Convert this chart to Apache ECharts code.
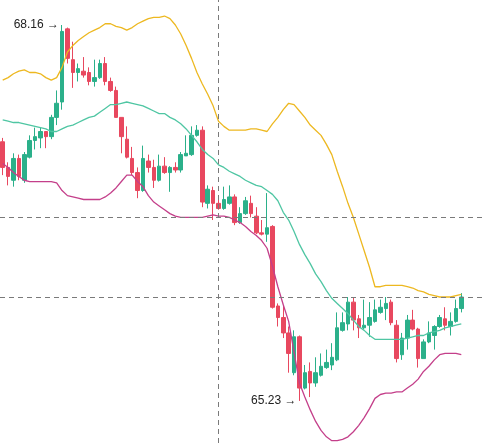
<!DOCTYPE html>
<html>
<head>
<meta charset="utf-8">
<script src="https://cdn.jsdelivr.net/npm/echarts@6/dist/echarts.min.js"></script>
<style>
html,body{margin:0;padding:0;background:#fff;}
#c{width:484px;height:443px;}
</style>
</head>
<body>
<div id="c"></div>
<script>
// candles: [open, close, low, high]
const candles = [
[67.25,67.05,66.99,67.28],[67.05,66.98,66.91,67.09],[66.95,67.12,66.90,67.16],[67.12,66.98,66.95,67.15],
[66.95,67.15,66.93,67.17],[67.13,67.26,67.12,67.30],[67.26,67.29,67.19,67.36],[67.28,67.33,67.20,67.36],
[67.33,67.29,67.20,67.33],[67.29,67.44,67.27,67.46],[67.44,67.55,67.38,67.65],[67.56,68.11,67.50,68.16],
[68.13,67.90,67.86,68.14],[67.89,67.79,67.67,68.03],[67.79,67.82,67.72,67.86],[67.80,67.77,67.75,67.91],
[67.79,67.72,67.69,67.83],[67.72,67.75,67.68,67.89],[67.75,67.86,67.74,67.89],[67.86,67.72,67.69,67.91],
[67.72,67.65,67.64,67.75],[67.65,67.44,67.44,67.68],[67.44,67.29,67.16,67.44],[67.27,67.13,67.12,67.37],
[67.12,67.01,66.99,67.21],[67.01,66.87,66.81,67.05],[66.87,67.12,66.86,67.22],[67.10,67.05,67.01,67.15],
[67.05,66.95,66.89,67.11],[66.95,67.06,66.94,67.15],[67.06,67.01,67.00,67.13],[67.01,67.05,66.86,67.06],
[67.05,67.03,67.01,67.09],[67.03,67.15,67.01,67.17],[67.14,67.16,67.14,67.30],[67.15,67.30,67.14,67.37],
[67.30,67.34,67.29,67.38],[67.34,66.78,66.74,67.37],[66.77,66.88,66.73,66.91],[66.87,66.77,66.64,66.90],
[66.77,66.73,66.72,66.83],[66.73,66.80,66.72,66.90],[66.77,66.82,66.76,66.91],[66.82,66.62,66.60,66.84],
[66.62,66.69,66.61,66.74],[66.69,66.79,66.68,66.82],[66.77,66.69,66.66,66.83],[66.67,66.54,66.53,66.74],
[66.54,66.53,66.52,66.64],[66.53,66.58,66.47,66.85],[66.59,65.96,65.95,66.60],[65.97,65.88,65.81,65.99],
[65.88,65.76,65.72,65.98],[65.76,65.60,65.45,65.81],[65.45,65.73,65.43,65.78],[65.73,65.33,65.23,65.74],
[65.33,65.45,65.32,65.51],[65.46,65.37,65.26,65.53],[65.37,65.45,65.34,65.57],[65.43,65.50,65.42,65.60],
[65.49,65.53,65.48,65.63],[65.51,65.57,65.47,65.68],[65.55,65.80,65.54,65.92],[65.78,65.84,65.77,65.92],
[65.83,66.00,65.78,66.04],[66.00,65.86,65.78,66.04],[65.87,65.80,65.72,65.90],[65.80,65.82,65.79,66.02],
[65.82,65.88,65.73,66.00],[65.85,65.94,65.84,66.02],[65.92,65.96,65.91,66.02],[65.95,65.99,65.86,66.04],
[66.00,65.84,65.82,66.02],[65.82,65.56,65.53,65.86],[65.59,65.72,65.55,65.76],[65.72,65.86,65.63,65.90],
[65.86,65.79,65.78,65.94],[65.79,65.56,65.49,65.80],[65.56,65.69,65.56,65.71],[65.69,65.76,65.68,65.85],
[65.74,65.81,65.63,65.82],[65.81,65.88,65.80,65.90],[65.87,65.82,65.78,65.96],[65.81,65.85,65.74,65.92],
[65.85,65.95,65.84,66.02],[65.95,66.04,65.92,66.07]
];
const upperBand = [67.73,67.75,67.78,67.80,67.81,67.79,67.79,67.78,67.75,67.73,
67.75,67.83,67.95,68.00,68.04,68.07,68.10,68.12,68.14,68.17,
68.17,68.15,68.14,68.12,68.14,68.17,68.19,68.21,68.22,68.22,
68.23,68.21,68.16,68.09,68.00,67.90,67.79,67.70,67.62,67.53,
67.41,67.37,67.34,67.34,67.34,67.34,67.35,67.35,67.34,67.33,
67.39,67.44,67.50,67.55,67.54,67.49,67.44,67.38,67.34,67.30,
67.23,67.15,67.02,66.90,66.77,66.66,66.53,66.40,66.27,66.12,
66.12,66.13,66.13,66.13,66.13,66.12,66.11,66.09,66.08,66.06,
66.05,66.04,66.04,66.04,66.05,66.06];
const middleBand = [67.42,67.41,67.40,67.40,67.39,67.38,67.37,67.36,67.35,67.33,
67.33,67.35,67.37,67.38,67.40,67.42,67.44,67.45,67.48,67.51,
67.54,67.54,67.55,67.56,67.55,67.54,67.53,67.51,67.49,67.47,
67.47,67.44,67.42,67.39,67.35,67.30,67.25,67.19,67.15,67.12,
67.07,67.05,67.02,67.00,66.98,66.95,66.93,66.91,66.90,66.87,
66.84,66.79,66.70,66.64,66.55,66.45,66.37,66.30,66.22,66.16,
66.09,66.03,65.99,65.95,65.91,65.86,65.81,65.78,65.74,65.71,
65.71,65.71,65.71,65.71,65.71,65.72,65.73,65.74,65.74,65.76,
65.77,65.78,65.80,65.81,65.82,65.83];
const lowerBand = [67.08,67.05,67.01,66.98,66.95,66.94,66.94,66.94,66.94,66.94,
66.93,66.87,66.83,66.82,66.81,66.80,66.80,66.80,66.80,66.82,
66.85,66.89,66.94,66.99,66.99,66.94,66.90,66.83,66.78,66.75,
66.72,66.69,66.67,66.66,66.66,66.66,66.66,66.66,66.67,66.68,
66.67,66.67,66.66,66.64,66.62,66.59,66.55,66.52,66.48,66.42,
66.28,66.12,65.98,65.85,65.61,65.37,65.26,65.16,65.07,65.00,
64.95,64.92,64.92,64.93,64.95,64.99,65.04,65.10,65.17,65.25,
65.28,65.29,65.29,65.30,65.30,65.33,65.36,65.40,65.46,65.50,
65.55,65.59,65.60,65.60,65.60,65.59];
const categories = candles.map((_, i) => String(i + 1));
const crossIndex = 40;
const crossPrice = 66.66;
const lastPrice = 66.04;
const yMin = 64.902, yMax = 68.355;

const UP = '#2bb08a', DOWN = '#e8485f';
const chart = echarts.init(document.getElementById('c'), null, {renderer: 'canvas'});
const dash = {color: '#7a7a7a', width: 1, type: [5, 4]};
chart.setOption({
  animation: false,
  backgroundColor: '#fff',
  grid: [
    {left: -2, right: 20, top: 0, bottom: 0, containLabel: false},
    {left: 0, right: 0, top: 0, bottom: 0, containLabel: false}
  ],
  xAxis: [
    {type: 'category', data: categories, show: false, boundaryGap: true, gridIndex: 0},
    {type: 'value', min: 0, max: 1, show: false, gridIndex: 1}
  ],
  yAxis: [
    {type: 'value', min: yMin, max: yMax, show: false, gridIndex: 0},
    {type: 'value', min: yMin, max: yMax, show: false, gridIndex: 1}
  ],
  series: [
    {
      type: 'candlestick', data: candles, barWidth: 4, z: 2,
      itemStyle: {color: UP, color0: DOWN, borderColor: UP, borderColor0: DOWN, borderWidth: 1},
      markLine: {
        silent: true, symbol: 'none', label: {show: false}, lineStyle: dash,
        data: [{xAxis: crossIndex}]
      },
      markPoint: {
        symbol: 'circle', symbolSize: 2,
        itemStyle: {color: 'rgba(0,0,0,0)', borderWidth: 0},
        label: {show: true, position: 'left', distance: 2,
          fontSize: 12, color: '#222', fontFamily: 'Liberation Sans, Arial, sans-serif',
          formatter: p => p.value + ' →'},
        data: [
          {type: 'max', valueDim: 'highest'},
          {type: 'min', valueDim: 'lowest'}
        ]
      }
    },
    {type: 'line', data: upperBand, showSymbol: false, symbol: 'none', z: 3,
      lineStyle: {color: '#edb820', width: 1.3}, itemStyle: {color: '#edb820'}},
    {type: 'line', data: middleBand, showSymbol: false, symbol: 'none', z: 3,
      lineStyle: {color: '#4fc6a3', width: 1.3}, itemStyle: {color: '#4fc6a3'}},
    {type: 'line', data: lowerBand, showSymbol: false, symbol: 'none', z: 3,
      lineStyle: {color: '#c43f8a', width: 1.3}, itemStyle: {color: '#c43f8a'}},
    {type: 'line', xAxisIndex: 1, yAxisIndex: 1, data: [[0, lastPrice]], showSymbol: false, symbol: 'none',
      lineStyle: {opacity: 0},
      markLine: {
        silent: true, symbol: 'none', label: {show: false}, lineStyle: dash,
        data: [{yAxis: crossPrice}, {yAxis: lastPrice}]
      }
    }
  ]
});
</script>
</body>
</html>
